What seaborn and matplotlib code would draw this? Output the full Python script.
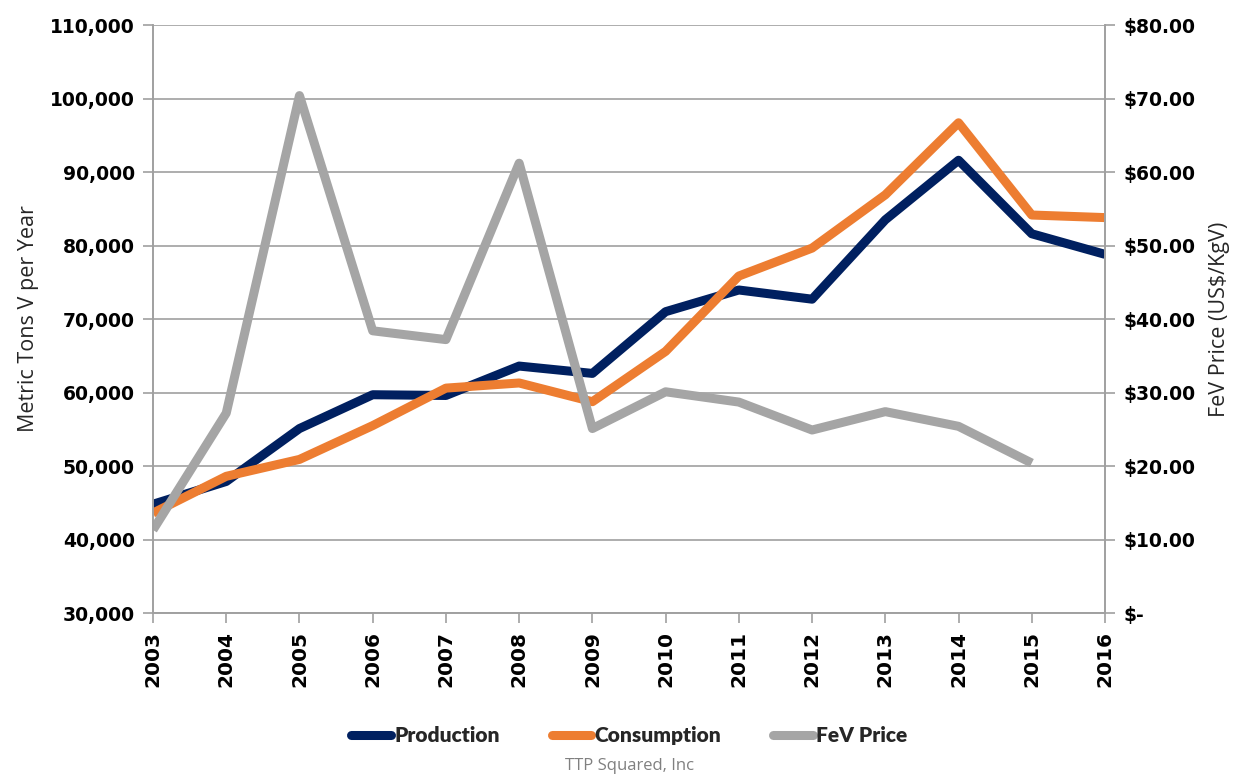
import numpy as np
import pandas as pd
import seaborn as sns
import matplotlib.pyplot as plt
from matplotlib.ticker import FuncFormatter, MultipleLocator
from matplotlib.lines import Line2D

years = list(range(2003, 2017))
production = [44800, 47900, 55100, 59700, 59600, 63600, 62600, 71000, 73950, 72700, 83500, 91600, 81600, 78800]
consumption = [43600, 48600, 50900, 55500, 60600, 61300, 58750, 65600, 75850, 79650, 86900, 96700, 84150, 83800]
fev_years = years[:-1]
fev_price = [11.3, 27.2, 70.4, 38.4, 37.2, 61.2, 25.1, 30.1, 28.7, 24.9, 27.4, 25.4, 20.4]

navy = "#002060"
orange = "#ED7D31"
grey = "#A5A5A5"
axis_grey = "#A0A0A0"

sns.set_style("white")
plt.rcParams["font.family"] = ["DejaVu Sans"]

fig = plt.figure(figsize=(12.51, 7.75), dpi=100)
ax = fig.add_axes([0.1223, 0.2090, 0.7610, 0.7587])
ax2 = ax.twinx()

vol = pd.DataFrame({"year": years, "Production": production, "Consumption": consumption})
price = pd.DataFrame({"year": fev_years, "FeV Price": fev_price})

sns.lineplot(data=vol, x="year", y="Production", ax=ax, color=navy, lw=6.5, solid_capstyle="butt")
sns.lineplot(data=vol, x="year", y="Consumption", ax=ax, color=orange, lw=6.5, solid_capstyle="butt")
sns.lineplot(data=price, x="year", y="FeV Price", ax=ax2, color=grey, lw=6.5, solid_capstyle="butt")

# left axis
ax.set_xlim(2003, 2016)
ax.set_ylim(30000, 110000)
ax.yaxis.set_major_locator(MultipleLocator(10000))
ax.yaxis.set_major_formatter(FuncFormatter(lambda v, p: f"{int(v):,}"))
ax.set_xticks(years)
ax.set_xticklabels([str(y) for y in years], rotation=90, fontweight="bold", fontsize=14.5)
ax.grid(axis="y", color=axis_grey, lw=1.2)
ax.set_axisbelow(True)
ax.set_xlabel("")
ax.set_ylabel("Metric Tons V per Year", fontsize=15.5, family="Open Sans", labelpad=8)
for lab in ax.get_yticklabels():
    lab.set_fontweight("bold")
    lab.set_fontsize(13.5)

# right axis
ax2.set_ylim(0, 80)
ax2.yaxis.set_major_locator(MultipleLocator(10))
ax2.yaxis.set_major_formatter(FuncFormatter(lambda v, p: "$-" if v == 0 else f"${v:,.2f}"))
ax2.set_ylabel("FeV Price (US$/KgV)", fontsize=15.5, family="Open Sans", labelpad=10)
for lab in ax2.get_yticklabels():
    lab.set_fontweight("bold")
    lab.set_fontsize(13.5)

for a in (ax, ax2):
    a.spines["top"].set_visible(False)
    for s in ("left", "right", "bottom"):
        a.spines[s].set_color(axis_grey)
        a.spines[s].set_linewidth(1.2)
    a.tick_params(axis="both", which="major", direction="out", length=7, width=1.2,
                  color=axis_grey, pad=6, labelcolor="black")
ax.tick_params(axis="y", left=True, right=False)
ax.tick_params(axis="x", bottom=True)
ax2.tick_params(axis="y", right=True, left=False)

handles = [Line2D([], [], color=navy, lw=6.5, solid_capstyle="round"),
           Line2D([], [], color=orange, lw=6.5, solid_capstyle="round"),
           Line2D([], [], color=grey, lw=6.5, solid_capstyle="round")]
fig.legend(handles, ["Production", "Consumption", "FeV Price"], loc="center",
           bbox_to_anchor=(0.503, 0.051), ncol=3, frameon=False,
           handlelength=1.9, handletextpad=0.15, columnspacing=2.5,
           prop={"family": "Lato", "weight": "heavy", "size": 15})

fig.text(0.503, 0.012, "TTP Squared, Inc", ha="center", va="center",
         color="#808080", fontsize=12, family="Open Sans")

fig.savefig("out.png", dpi=100)
